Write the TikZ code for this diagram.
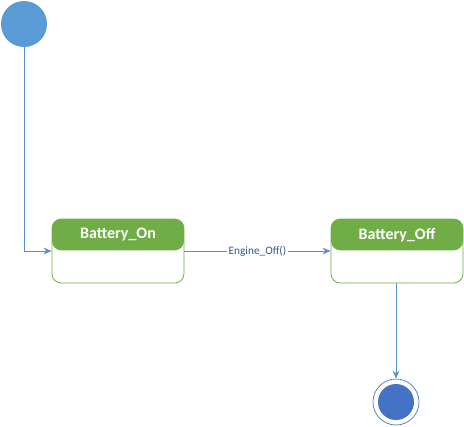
\documentclass[tikz,border=0pt]{standalone}
\usepackage{fontspec}
\setmainfont{Carlito}
\usetikzlibrary{arrows.meta}
\definecolor{stategreen}{HTML}{70AD47}
\definecolor{initblue}{HTML}{5B9BD5}
\definecolor{finalblue}{HTML}{4472C4}
\definecolor{wireblue}{HTML}{5B8FCB}
\definecolor{labelblue}{HTML}{2F5A8C}

\begin{document}
\begin{tikzpicture}[x=0.75pt, y=-0.75pt, >={Stealth[length=6pt, width=5pt]},
                    statebox/.style={draw=stategreen, line width=0.6pt, rounded corners=7pt,
                                     minimum width=99pt, minimum height=48pt, inner sep=0pt,
                                     path picture={\fill[stategreen] (path picture bounding box.north west)
                                       rectangle ([yshift=-23.5pt]path picture bounding box.north east);}},
                    statetitle/.style={white, font=\fontsize{12}{14}\selectfont\bfseries},
                    wire/.style={wireblue, line width=0.6pt}]

  %% 畫面範圍
  \useasboundingbox (0,0) rectangle (464,426);

  %% 起點
  \node[circle, fill=initblue, minimum size=34.5pt, inner sep=0pt] (init) at (24,24) {};

  %% 兩個狀態
  \node[statebox] (bon)  at (118,251) {};
  \node[statetitle] (bontitle) at (118,235) {Battery\_On};
  \node[statebox] (boff) at (397,251) {};
  \node[statetitle] (bofftitle) at (397,235) {Battery\_Off};

  %% 終點
  \node[circle, draw=finalblue, line width=0.5pt, minimum size=34.5pt, inner sep=0pt,
        path picture={\fill[finalblue] (path picture bounding box.center) circle (13.5pt);}]
        (fin) at (396,402) {};

  %% 轉移
  \draw[wire, ->] (init) |- (bon.west);
  \draw[wire, ->] (bon.east) -- (boff.west)
        node[midway, fill=white, inner sep=1pt, text=labelblue, font=\fontsize{8.5}{10}\selectfont] {Engine\_Off()};
  \draw[wire, ->] (boff.south -| fin) -- (fin);

\end{tikzpicture}
\end{document}
